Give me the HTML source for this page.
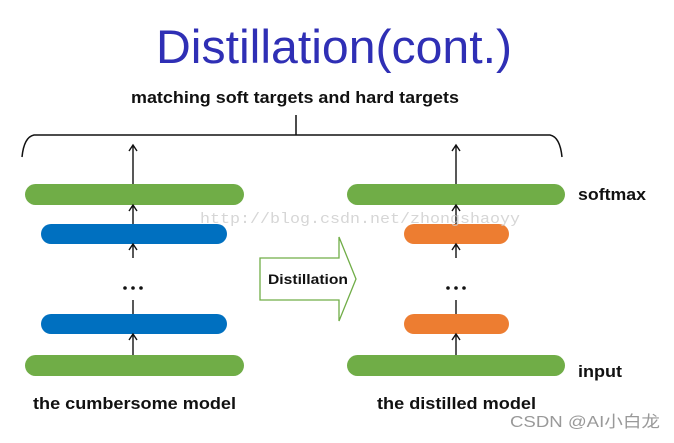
<!DOCTYPE html>
<html><head><meta charset="utf-8"><style>
body{margin:0;background:#fff;width:674px;height:438px;overflow:hidden}
</style></head><body>
<svg width="674" height="438" viewBox="0 0 674 438" xmlns="http://www.w3.org/2000/svg">
<rect width="674" height="438" fill="#fff"/>
<text x="334" y="63" text-anchor="middle" font-family="Liberation Sans, sans-serif" font-size="47" fill="#2f2fb5" textLength="356" lengthAdjust="spacingAndGlyphs">Distillation(cont.)</text>
<text x="131" y="103" font-family="Liberation Sans, sans-serif" font-weight="bold" font-size="17" fill="#111" textLength="328" lengthAdjust="spacingAndGlyphs">matching soft targets and hard targets</text>
<g stroke="#111" stroke-width="1.5" fill="none">
<line x1="296" y1="115" x2="296" y2="135"/>
<path d="M22,157 Q24,137 34,135 L550,135 Q560,137 562,157"/>
</g>
<g fill="#70ad47">
<rect x="25" y="184" width="219" height="21" rx="10.5"/>
<rect x="25" y="355" width="219" height="21" rx="10.5"/>
<rect x="347" y="184" width="218" height="21" rx="10.5"/>
<rect x="347" y="355" width="218" height="21" rx="10.5"/>
</g>
<g fill="#0070c0">
<rect x="41" y="224" width="186" height="20" rx="10"/>
<rect x="41" y="314" width="186" height="20" rx="10"/>
</g>
<g fill="#ed7d31">
<rect x="404" y="224" width="105" height="20" rx="10"/>
<rect x="404" y="314" width="105" height="20" rx="10"/>
</g>
<g stroke="#111" stroke-width="1.4" fill="none">
<path d="M133,184 V146 M129,151 L133,145 L137,151"/>
<path d="M133,224 V205 M129,211 L133,205 L137,211"/>
<path d="M133,258 V244 M129,250 L133,244 L137,250"/>
<path d="M133,300 V314"/>
<path d="M133,355 V334 M129,340 L133,334 L137,340"/>
<path d="M456,184 V146 M452,151 L456,145 L460,151"/>
<path d="M456,224 V205 M452,211 L456,205 L460,211"/>
<path d="M456,258 V244 M452,250 L456,244 L460,250"/>
<path d="M456,300 V314"/>
<path d="M456,355 V334 M452,340 L456,334 L460,340"/>
</g>
<g fill="#111">
<circle cx="125" cy="288" r="1.8"/><circle cx="133" cy="288" r="1.8"/><circle cx="141" cy="288" r="1.8"/>
<circle cx="448" cy="288" r="1.8"/><circle cx="456" cy="288" r="1.8"/><circle cx="464" cy="288" r="1.8"/>
</g>
<path d="M260,258 H339 V237 L356,279 L339,321 V300 H260 Z" fill="#fff" stroke="#70ad47" stroke-width="1.3"/>
<text x="268" y="284" font-family="Liberation Sans, sans-serif" font-weight="bold" font-size="14" fill="#111" textLength="80" lengthAdjust="spacingAndGlyphs">Distillation</text>
<text x="200" y="223" font-family="Liberation Mono, monospace" font-size="15" fill="#ccc" opacity="0.8" textLength="320" lengthAdjust="spacingAndGlyphs">http://blog.csdn.net/zhongshaoyy</text>
<text x="578" y="200" font-family="Liberation Sans, sans-serif" font-weight="bold" font-size="17" fill="#111" textLength="68" lengthAdjust="spacingAndGlyphs">softmax</text>
<text x="578" y="377" font-family="Liberation Sans, sans-serif" font-weight="bold" font-size="17" fill="#111" textLength="44" lengthAdjust="spacingAndGlyphs">input</text>
<text x="33" y="409" font-family="Liberation Sans, sans-serif" font-weight="bold" font-size="17" fill="#111" textLength="203" lengthAdjust="spacingAndGlyphs">the cumbersome model</text>
<text x="377" y="409" font-family="Liberation Sans, sans-serif" font-weight="bold" font-size="17" fill="#111" textLength="159" lengthAdjust="spacingAndGlyphs">the distilled model</text>
<text x="510" y="427" font-family="Liberation Sans, 'Noto Sans CJK SC', sans-serif" font-size="16" fill="#999" textLength="150" lengthAdjust="spacingAndGlyphs">CSDN @AI小白龙</text>
</svg>
</body></html>
